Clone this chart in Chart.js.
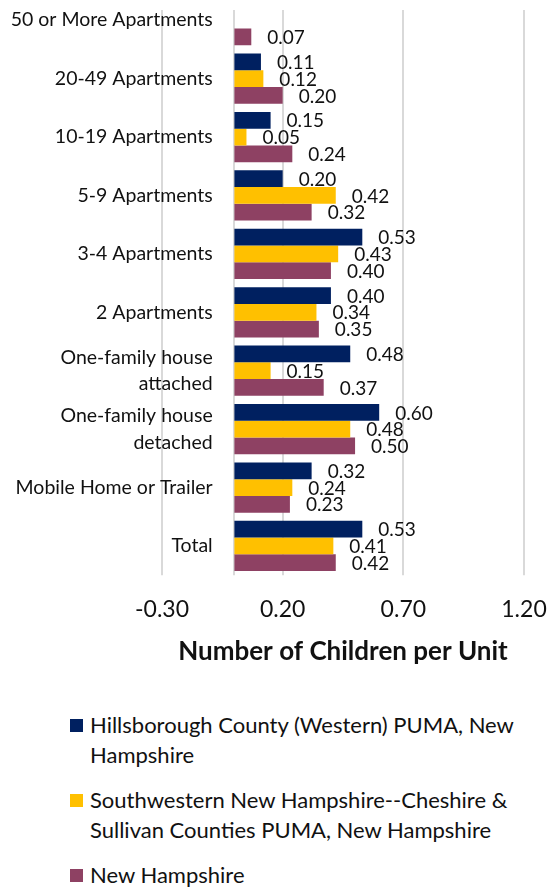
<!DOCTYPE html>
<html>
<head>
<meta charset="utf-8">
<script src="https://cdn.jsdelivr.net/npm/chart.js@4.4.0/dist/chart.umd.min.js"></script>
<style>
  body { margin: 0; background: #fff; font-family: Lato, sans-serif; overflow: hidden; }
  #wrap { position: relative; width: 548px; height: 888px; overflow: hidden; }
  #chart { display: block; margin-top: -12px; }
  #legend { position: absolute; left: 70px; top: 710px; width: 460px; color: #111; font-size: 22px; line-height: 30px; }
  .item { display: flex; margin-bottom: 15px; }
  .box { width: 13px; height: 13px; flex: none; margin: 9px 7px 0 0; }
</style>
</head>
<body>
<div id="wrap">
  <canvas id="chart" width="548" height="692"></canvas>
  <div id="legend"></div>
</div>
<script>
const categories = [
  '50 or More Apartments',
  '20-49 Apartments',
  '10-19 Apartments',
  '5-9 Apartments',
  '3-4 Apartments',
  '2 Apartments',
  ['One-family house', 'attached'],
  ['One-family house', 'detached'],
  'Mobile Home or Trailer',
  'Total'
];
const seriesNames = [
  'Hillsborough County (Western) PUMA, New Hampshire',
  'Southwestern New Hampshire--Cheshire & Sullivan Counties PUMA, New Hampshire',
  'New Hampshire'
];
const hillsborough = [null, 0.11, 0.15, 0.20, 0.53, 0.40, 0.48, 0.60, 0.32, 0.53];
const southwestern = [null, 0.12, 0.05, 0.42, 0.43, 0.34, 0.15, 0.48, 0.24, 0.41];
const newHampshire = [0.07, 0.20, 0.24, 0.32, 0.40, 0.35, 0.37, 0.50, 0.23, 0.42];
const xTicks = [-0.3, 0.2, 0.7, 1.2];
const colors = ['#002060', '#FFC000', '#8E4163'];

const textColor = '#111';
const gridTop = 22;  // gridlines start a bit below the top edge (canvas is shifted up 12px)

// gridlines + zero line under everything, value labels after the bars
const overlay = {
  id: 'overlay',
  beforeDraw(chart) {
    const { ctx, chartArea, scales: { x } } = chart;
    ctx.save();
    ctx.strokeStyle = '#d9d9d9';
    ctx.lineWidth = 2;
    xTicks.concat([0]).forEach(v => {
      const px = Math.round(x.getPixelForValue(v));
      ctx.beginPath();
      ctx.moveTo(px, gridTop);
      ctx.lineTo(px, chartArea.bottom);
      ctx.stroke();
    });
    ctx.restore();
  },
  afterDatasetsDraw(chart) {
    const ctx = chart.ctx;
    ctx.save();
    ctx.font = '19px Lato';
    ctx.fillStyle = textColor;
    ctx.textAlign = 'left';
    ctx.textBaseline = 'middle';
    chart.data.datasets.forEach((ds, i) => {
      chart.getDatasetMeta(i).data.forEach((bar, j) => {
        const v = ds.data[j];
        if (v == null) return;
        ctx.fillText(v.toFixed(2), bar.x + 16, bar.y + 1);
      });
    });
    ctx.restore();
  }
};

const chart = new Chart(document.getElementById('chart'), {
  type: 'bar',
  data: {
    labels: categories,
    datasets: [hillsborough, southwestern, newHampshire].map((d, i) => ({
      label: seriesNames[i],
      data: d,
      backgroundColor: colors[i],
      borderWidth: 0,
      barPercentage: 1,
      categoryPercentage: 0.86
    }))
  },
  options: {
    indexAxis: 'y',
    responsive: false,
    animation: false,
    layout: { padding: { left: 162, right: 24, top: 3, bottom: 12.4 } },
    plugins: {
      legend: { display: false },
      tooltip: { enabled: false }
    },
    scales: {
      x: {
        min: -0.3,
        max: 1.2,
        afterBuildTicks(s) { s.ticks = xTicks.map(v => ({ value: v })); },
        grid: { display: false, drawTicks: true, tickLength: 21 },
        border: { display: false },
        ticks: {
          padding: 0,
          color: textColor,
          maxRotation: 0,
          autoSkip: false,
          font: { family: 'Lato', size: 23 },
          callback: v => v.toFixed(2)
        },
        title: {
          display: true,
          text: 'Number of Children per Unit',
          color: textColor,
          font: { family: 'Lato', size: 26, weight: 'bold' },
          padding: { top: 12.6, bottom: 0 }
        }
      },
      y: {
        // category labels sit just left of the zero line, like Excel's crossing axis
        position: { x: -0.09 },
        grid: { display: false, drawTicks: false },
        border: { display: false },
        ticks: {
          padding: -14,
          color: textColor,
          autoSkip: false,
          font: { family: 'Lato', size: 19.5, lineHeight: 1.36 }
        }
      }
    }
  },
  plugins: [overlay]
});

// legend below the chart
const legend = document.getElementById('legend');
chart.data.datasets.forEach(ds => {
  const item = document.createElement('div');
  item.className = 'item';
  item.innerHTML = '<span class="box"></span><span class="txt"></span>';
  item.querySelector('.box').style.background = ds.backgroundColor;
  item.querySelector('.txt').textContent = ds.label;
  legend.appendChild(item);
});
</script>
</body>
</html>
